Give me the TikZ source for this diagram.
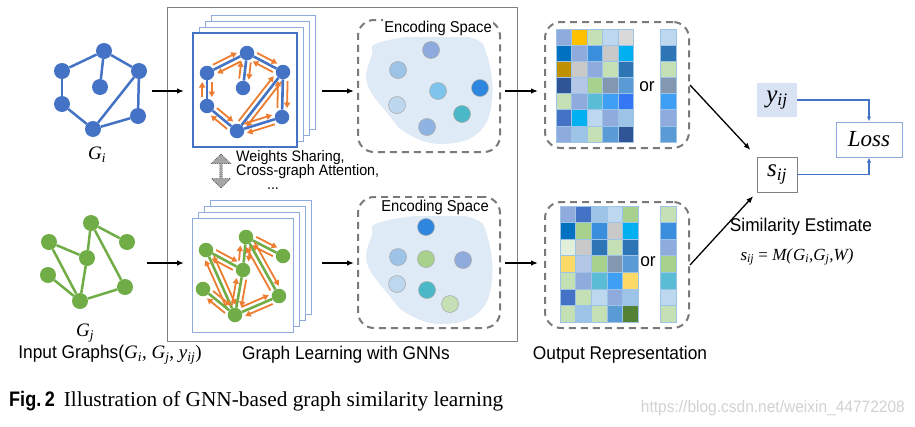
\documentclass[tikz,border=0pt]{standalone}
\usepackage{fontspec}
\setmainfont{Liberation Serif}
\newfontfamily\lsans[FakeStretch=0.94]{Liberation Sans}
\newfontfamily\figsans[FakeStretch=0.86]{Liberation Sans}
\usetikzlibrary{calc,arrows.meta,shapes.arrows}
\definecolor{nblue}{HTML}{4472C4}
\definecolor{ngreen}{HTML}{70AD47}
\definecolor{norange}{HTML}{ED7D31}
\definecolor{blobc}{HTML}{DEEAF6}
\definecolor{layerc}{HTML}{8FAADC}
\definecolor{dgrey}{HTML}{7A7A7A}
\definecolor{cellb}{HTML}{9DC3E6}
\definecolor{cA}{HTML}{8FAADC}
\definecolor{cY}{HTML}{FFC000}
\definecolor{cG}{HTML}{C5E0B4}
\definecolor{cL}{HTML}{BDD7EE}
\definecolor{cS}{HTML}{D9D9D9}
\definecolor{cD}{HTML}{0070C0}
\definecolor{cB}{HTML}{3A8EDE}
\definecolor{cC}{HTML}{C9C9C9}
\definecolor{cK}{HTML}{00B0F0}
\definecolor{cO}{HTML}{BF9000}
\definecolor{cT}{HTML}{2E75B6}
\definecolor{cN}{HTML}{2F5597}
\definecolor{cP}{HTML}{B4C7E7}
\definecolor{cH}{HTML}{A9D18E}
\definecolor{cW}{HTML}{8497B0}
\definecolor{cM}{HTML}{5B9BD5}
\definecolor{cQ}{HTML}{5BBCD6}
\definecolor{cR}{HTML}{3DA0F5}
\definecolor{cU}{HTML}{3377F5}
\definecolor{cI}{HTML}{4472C4}
\definecolor{cJ}{HTML}{9DC3E6}
\definecolor{cE}{HTML}{E2EFDA}
\definecolor{cF}{HTML}{FFD966}
\definecolor{cZ}{HTML}{548235}
\definecolor{cX}{HTML}{2E86DE}
\definecolor{cV}{HTML}{4BB8C8}
\definecolor{cSky}{HTML}{7FC4EC}
\definecolor{cPeri}{HTML}{8FB4E3}
\definecolor{ybg}{HTML}{DAE3F3}
\newcommand\vv[2]{\textit{#1}\textsubscript{\textit{#2}}}
\newcommand\biedge[3]{%
  \draw[#3, line width=2.6pt] (#1) -- (#2);
  \draw[oarr] ($(#1)!9pt!(#2)!4.8pt!90:(#2)$) -- ($(#2)!9pt!(#1)!4.8pt!-90:(#1)$);
  \draw[oarr] ($(#2)!9pt!(#1)!4.8pt!90:(#1)$) -- ($(#1)!9pt!(#2)!4.8pt!-90:(#2)$);
}
\tikzset{
  bnode/.style={circle, fill=nblue, minimum size=16pt, inner sep=0},
  gnode/.style={circle, fill=ngreen, minimum size=16pt, inner sep=0},
  bsnode/.style={circle, fill=nblue, minimum size=14.5pt, inner sep=0},
  gsnode/.style={circle, fill=ngreen, minimum size=14.5pt, inner sep=0},
  bedge/.style={nblue, line width=2.5pt},
  gedge/.style={ngreen, line width=2.5pt},
  oarr/.style={draw=norange, line width=1.8pt, -{Triangle[length=5.5pt,width=6pt]}},
  layer/.style={draw=layerc, line width=1pt, fill=white},
  arr/.style={line width=1.3pt, -{Latex[length=7pt,width=5.5pt]}},
  barr/.style={draw=nblue, line width=1.5pt, -{Latex[length=5pt,width=4.5pt]}},
  ebox/.style={draw=dgrey, line width=2pt, dash pattern=on 7pt off 5pt, rounded corners=16pt, inner sep=0},
  ecirc/.style={circle, draw=gray!70, line width=0.5pt, minimum size=17pt, inner sep=0},
  lbl/.style={inner sep=0, font=\lsans\fontsize{18.4}{20}\selectfont},
  slbl/.style={inner sep=0, font=\lsans\fontsize{15.2}{16}\selectfont},
  cell/.style={draw=cellb, line width=0.6pt},
}
\begin{document}
\begin{tikzpicture}[x=1pt,y=-1pt]
\useasboundingbox (0,0) rectangle (915,426);
\fill[white] (0,0) rectangle (915,426);

% ---------- big box ----------
\node[draw=gray, line width=0.8pt, minimum width=350pt, minimum height=334pt, inner sep=0] (bigbox) at (342,174) {};

% ---------- input graph Gi ----------
\foreach \i/\x/\y in {1/104/51,2/62/71,3/139/71,4/100/87,5/62/104,6/138/116,7/93/129}
  \node[bnode] (li\i) at (\x,\y) {};
\foreach \a/\b in {1/2,1/3,1/4,2/5,5/7,7/3,7/6,3/6}
  \draw[bedge] (li\a) -- (li\b);
\node[inner sep=0, font=\fontsize{19}{21}\selectfont] (gil) at (97,155) {\vv{G}{i}};

% ---------- input graph Gj ----------
\foreach \i/\x/\y in {1/91/223,2/49/242,3/127/242,4/87/258,5/48/275,6/125/287,7/80/301}
  \node[gnode] (lj\i) at (\x,\y) {};
\foreach \a/\b in {1/4,1/3,1/6,2/4,2/7,4/7,5/7,7/6}
  \draw[gedge] (lj\a) -- (lj\b);
\node[inner sep=0, font=\fontsize{19}{21}\selectfont] (gjl) at (85,333) {\vv{G}{j}};

% ---------- GNN stack (upper) ----------
\foreach \k in {3,2,1}
  \draw[layer] (193+6.3*\k,33-6*\k) rectangle ++(104,114);
\node[draw=nblue, line width=2pt, fill=white, minimum width=104pt, minimum height=114pt, inner sep=0] (sq1) at (245,90) {};
\foreach \i/\x/\y in {1/247/53,2/207/73,3/283/72,4/243/88,5/207/106,6/282/117,7/237/131}
  \node[bsnode] (b\i) at (\x,\y) {};
\foreach \a/\b in {1/2,1/3,1/4,2/5,5/7,7/3,7/6,3/6}
  {\biedge{b\a}{b\b}{nblue}}

% ---------- GNN stack (lower) ----------
\foreach \k in {3,2,1}
  \draw[layer] (192+6.3*\k,218-6*\k) rectangle ++(101,114);
\node[draw=layerc, line width=1pt, fill=white, minimum width=101pt, minimum height=114pt, inner sep=0] (sq2) at (242.5,275) {};
\foreach \i/\x/\y in {1/246/237,2/206/250,3/283/256,4/243/270,5/203/289,6/279/296,7/235/315}
  \node[gsnode] (g\i) at (\x,\y) {};
\foreach \a/\b in {1/4,1/3,1/6,2/4,2/7,4/7,5/7,7/6}
  {\biedge{g\a}{g\b}{ngreen}}

% ---------- weights sharing ----------
\node[double arrow, rotate=90, fill=gray!70, draw=gray!80!black, densely dotted, line width=0.9pt,
      minimum height=34pt, minimum width=19pt, double arrow head extend=3pt, inner sep=0] (dbl) at (221,171) {};
\node[slbl, anchor=west] (ws1) at (236,158) {Weights Sharing,};
\node[slbl, anchor=west] (ws2) at (236,172) {Cross-graph Attention,};
\node[slbl] (ws3) at (273,189) {...};

% ---------- arrows into / out of stacks ----------
\coordinate (a1s) at (152,91);  \coordinate (a1e) at (184,91);
\coordinate (a2s) at (147,263); \coordinate (a2e) at (184,263);
\coordinate (a3s) at (322,91);  \coordinate (a3e) at (354,91);
\coordinate (a4s) at (322,263); \coordinate (a4e) at (354,263);
\coordinate (a5s) at (505,91);  \coordinate (a5e) at (538,91);
\coordinate (a6s) at (505,263); \coordinate (a6e) at (538,263);
\foreach \n in {1,...,6} \draw[arr] (a\n s) -- (a\n e);

% ---------- encoding spaces ----------
\fill[blobc] plot[smooth cycle, tension=0.7] coordinates {(378,43) (428,35) (472,38) (487,55) (492,100) (478,133) (442,144) (408,134) (388,114) (367,83) (372,55)};
\fill[blobc] plot[smooth cycle, tension=0.7] coordinates {(378,223) (428,215) (472,218) (487,235) (492,280) (478,313) (442,324) (408,314) (388,294) (367,263) (372,235)};
\node[ebox, minimum width=142pt, minimum height=132pt] (enc1) at (429,86) {};
\node[ebox, minimum width=142pt, minimum height=131pt] (enc2) at (429,262.5) {};
\node[slbl, fill=white, inner sep=1.5pt, font=\lsans\fontsize{15.7}{17}\selectfont] (et1) at (438,28) {Encoding Space};
\node[slbl, fill=white, inner sep=1.5pt, font=\lsans\fontsize{15.7}{17}\selectfont] (et2) at (435,207) {Encoding Space};
\foreach \i/\x/\y/\c in {1/431/50/cA,2/398/70/cJ,3/438/91/cSky,4/480/88/cX,5/397/105/cL,6/462/114/cV,7/427/127/cPeri}
  \node[ecirc, fill=\c] (eu\i) at (\x,\y) {};
\foreach \i/\x/\y/\c in {1/426/227/cX,2/398/257/cJ,3/426/259/cH,4/463/260/cA,5/397/284/cL,6/427/290/cV,7/450/304/cG}
  \node[ecirc, fill=\c] (el\i) at (\x,\y) {};

% ---------- output representations ----------
\node[ebox, minimum width=144pt, minimum height=126pt] (mbox1) at (617,85) {};
\node[ebox, minimum width=144pt, minimum height=126pt] (mbox2) at (617,265) {};
\foreach \row [count=\r] in {{cA,cY,cG,cL,cS},{cD,cA,cB,cC,cK},{cO,cC,cA,cG,cT},{cN,cP,cH,cW,cM},{cG,cA,cQ,cR,cU},{cI,cK,cL,cA,cJ},{cA,cJ,cG,cM,cN}}
  \foreach \c [count=\k] in \row
    \filldraw[cell, fill=\c] (556+15.5*\k-15.5,29+16.15*\r-16.15) rectangle ++(15.5,16.15);
\foreach \c [count=\r] in {cL,cT,cG,cW,cR,cA,cM}
  \filldraw[cell, fill=\c] (660,29+16.15*\r-16.15) rectangle ++(16,16.15);
\foreach \row [count=\r] in {{cA,cI,cJ,cL,cH},{cD,cH,cB,cC,cK},{cE,cC,cT,cG,cT},{cF,cP,cH,cW,cM},{cG,cA,cQ,cR,cF},{cI,cG,cL,cA,cJ},{cG,cJ,cG,cM,cZ}}
  \foreach \c [count=\k] in \row
    \filldraw[cell, fill=\c] (560+15.6*\k-15.6,206+16.57*\r-16.57) rectangle ++(15.6,16.57);
\foreach \c [count=\r] in {cG,cB,cA,cH,cQ,cL,cG}
  \filldraw[cell, fill=\c] (660,206+16.57*\r-16.57) rectangle ++(16,16.57);
\node[lbl] (or1) at (647,87) {or};
\node[lbl] (or2) at (648,262) {or};

% ---------- similarity & loss ----------
\node[fill=ybg, minimum width=40pt, minimum height=34pt, inner sep=0, font=\fontsize{25}{27}\selectfont] (ybox) at (777,100) {\vv{y}{ij}};
\node[draw=gray, line width=0.8pt, fill=white, minimum width=40pt, minimum height=35pt, inner sep=0, font=\fontsize{25}{27}\selectfont] (sbox) at (777,174.5) {\vv{s}{ij}};
\node[draw=layerc, line width=1pt, fill=white, minimum width=66pt, minimum height=35pt, inner sep=0, font=\itshape\fontsize{23}{25}\selectfont] (loss) at (869,139.5) {Loss};
\draw[arr, shorten >=9pt] (mbox1.east) -- (sbox.north west);
\draw[arr, shorten >=5pt] (mbox2.east) -- (sbox.south west);
\draw[barr] (ybox.east) -| (loss.north);
\draw[barr] (sbox.east) -| (loss.south);
\node[lbl] (simest) at (801,227) {Similarity Estimate};
\node[inner sep=0, font=\fontsize{17}{19}\selectfont] (simf) at (797,257) {\vv{s}{ij} = \textit{M(}\vv{G}{i}\textit{,}\vv{G}{j}\textit{,W)}};

% ---------- bottom labels ----------
\node[lbl] (inlbl) at (110,355) {Input Graphs(\rmfamily\fontsize{19}{21}\selectfont\vv{G}{i}, \vv{G}{j}, \vv{y}{ij})};
\node[lbl] (gllbl) at (346,355) {Graph Learning with GNNs};
\node[lbl] (orlbl) at (620,355) {Output Representation};

% ---------- caption ----------
\node[inner sep=0, anchor=west] (cap) at (9,401) {{\figsans\bfseries\fontsize{21}{23}\selectfont Fig.\,2}\hspace{9pt}{\fontsize{21.3}{23}\selectfont Illustration of GNN-based graph similarity learning}};
\node[inner sep=0, anchor=east, text=gray!35, font=\lsans\fontsize{16.5}{18}\selectfont] (wm) at (905,408) {https://blog.csdn.net/weixin\_44772208};
\end{tikzpicture}
\end{document}
